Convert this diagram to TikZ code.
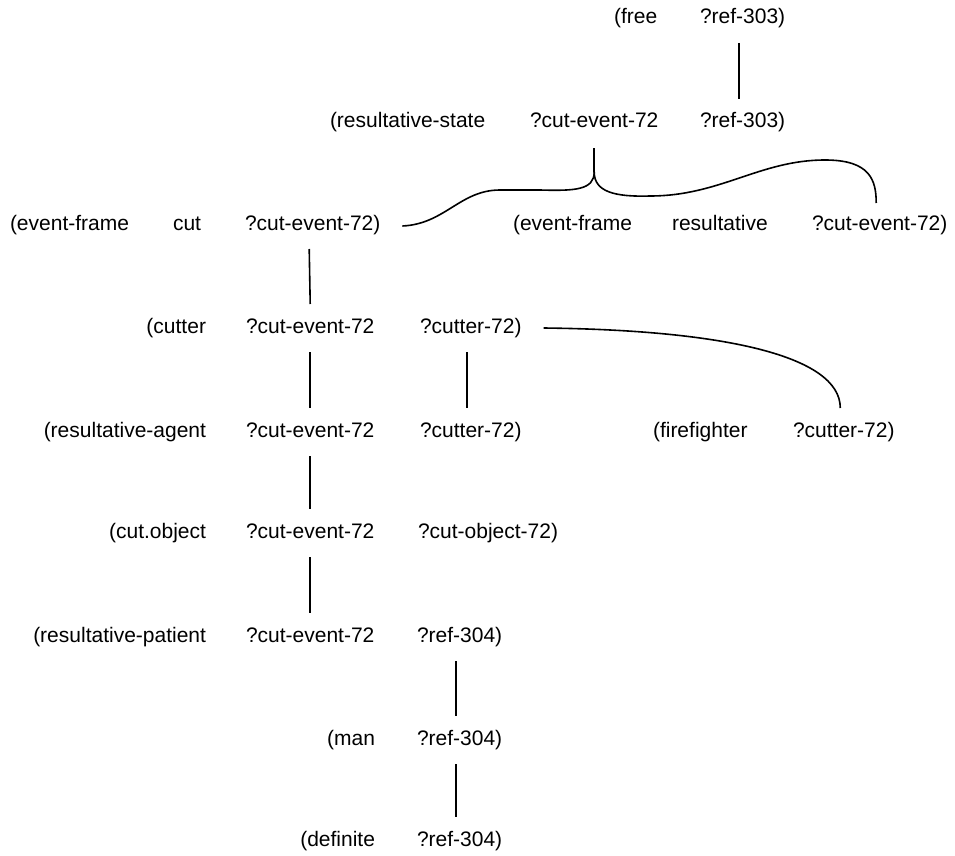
\documentclass[tikz,border=0pt]{standalone}
\usepackage{fontspec}
\setmainfont{Liberation Sans}
\tikzset{
  tok/.style={anchor=base west, inner sep=0pt, outer sep=0pt, font=\fontsize{21}{25}\selectfont},
  tokr/.style={tok, anchor=base east},
  conn/.style={line width=1.6pt, line cap=butt},
}
\begin{document}
\begin{tikzpicture}[x=1pt, y=-1pt]
\useasboundingbox (0,0) rectangle (955,856);
% row 1
\node[tok] (r1a) at (614,24) {(free};
\node[tok] (r1b) at (700,24) {?ref-303};
\node[tok] (r1bp) at (r1b.base east) {)};
% row 2
\node[tok] (r2a) at (330,128) {(resultative-state};
\node[tok] (r2b) at (530,128) {?cut-event-72};
\node[tok] (r2c) at (700,128) {?ref-303};
\node[tok] (r2cp) at (r2c.base east) {)};
% row 3
\node[tok] (r3a) at (10,230) {(event-frame};
\node[tok] (r3b) at (173,230) {cut};
\node[tok] (r3c) at (245,230) {?cut-event-72};
\node[tok] (r3cp) at (r3c.base east) {)};
\node[tok] (r3d) at (513,230) {(event-frame};
\node[tok] (r3e) at (672,230) {resultative};
\node[tok] (r3f) at (812,230) {?cut-event-72};
\node[tok] (r3fp) at (r3f.base east) {)};
% row 4
\node[tokr] (r4a) at (206,333) {(cutter};
\node[tok] (r4b) at (246,333) {?cut-event-72};
\node[tok] (r4c) at (420,333) {?cutter-72};
\node[tok] (r4cp) at (r4c.base east) {)};
% row 5
\node[tokr] (r5a) at (206,437) {(resultative-agent};
\node[tok] (r5b) at (246,437) {?cut-event-72};
\node[tok] (r5c) at (420,437) {?cutter-72};
\node[tok] (r5cp) at (r5c.base east) {)};
\node[tok] (r5d) at (653,437) {(firefighter};
\node[tok] (r5e) at (793,437) {?cutter-72};
\node[tok] (r5ep) at (r5e.base east) {)};
% row 6
\node[tokr] (r6a) at (206,538) {(cut.object};
\node[tok] (r6b) at (246,538) {?cut-event-72};
\node[tok] (r6c) at (418,538) {?cut-object-72};
\node[tok] (r6cp) at (r6c.base east) {)};
% row 7
\node[tokr] (r7a) at (206,642) {(resultative-patient};
\node[tok] (r7b) at (246,642) {?cut-event-72};
\node[tok] (r7c) at (417,642) {?ref-304};
\node[tok] (r7cp) at (r7c.base east) {)};
% row 8
\node[tokr] (r8a) at (375,745) {(man};
\node[tok] (r8b) at (417,745) {?ref-304};
\node[tok] (r8bp) at (r8b.base east) {)};
% row 9
\node[tokr] (r9a) at (375,846) {(definite};
\node[tok] (r9b) at (417,846) {?ref-304};
\node[tok] (r9bp) at (r9b.base east) {)};

% vertical connectors
\draw[conn] ([yshift=-19pt]r1b.base) -- ([yshift=29pt]r2c.base);
\draw[conn] ([yshift=-19pt]r3c.base) -- ([yshift=29pt]r4b.base);
\draw[conn] ([yshift=-19pt]r4b.base) -- ([yshift=29pt]r5b.base);
\draw[conn] ([yshift=-19pt]r5b.base) -- ([yshift=29pt]r6b.base);
\draw[conn] ([yshift=-19pt]r6b.base) -- ([yshift=29pt]r7b.base);
\draw[conn] ([yshift=-19pt]r4c.base) -- ([yshift=29pt]r5c.base);
\draw[conn] ([yshift=-19pt]r7c.base) -- ([yshift=29pt]r8b.base);
\draw[conn] ([yshift=-19pt]r8b.base) -- ([yshift=29pt]r9b.base);

% branching curve from row 2
\coordinate (jtop) at ([yshift=-20pt]r2b.base);
\coordinate (cusp) at ([yshift=-44pt]r2b.base);
\coordinate (lend) at ([xshift=22pt,yshift=4pt]r3cp.base east);
\coordinate (rend) at ([yshift=27pt]r3f.base);
\draw[conn] (jtop) -- (cusp);
\draw[conn] (cusp) .. controls +(0,18) and (575,191) .. (540,190)
  -- (500,190) .. controls (460,190) and (445,224) .. (lend);
\draw[conn] (cusp) .. controls +(0,20) and (615,197) .. (650,196)
  .. controls (720,196) and (760,160) .. (825,160)
  .. controls (870,160) and (rend |- 0,180) .. (rend);

% curve from row 4 to firefighter
\coordinate (cstart) at ([xshift=22pt,yshift=5pt]r4cp.base east);
\coordinate (cend) at ([yshift=29pt]r5e.base);
\draw[conn] (cstart) .. controls (720,330) and (cend |- 0,355) .. (cend);
\end{tikzpicture}
\end{document}
